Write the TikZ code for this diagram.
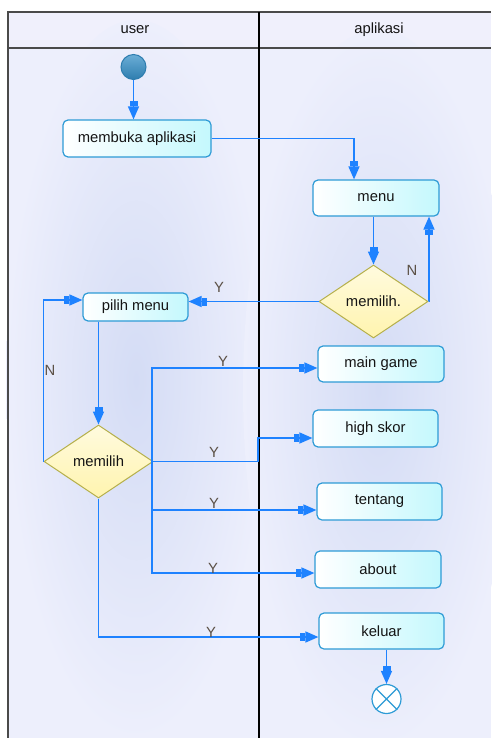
\documentclass[tikz,border=0pt]{standalone}
\usepackage{fontspec}
\setmainfont{Liberation Sans}
\usetikzlibrary{arrows.meta,shapes.geometric,calc}
\definecolor{flowc}{HTML}{1E82FF}
\definecolor{lanebg}{HTML}{EDEFFC}
\definecolor{headbg}{HTML}{F0F0FC}
\definecolor{glow}{HTML}{D4DCF5}
\definecolor{boxline}{HTML}{2E9BD6}
\definecolor{boxfill}{HTML}{C4F8FD}
\definecolor{decline}{HTML}{B5AF4A}
\definecolor{decfill}{HTML}{FFF4AE}
\definecolor{frame}{HTML}{4A4A4A}
\definecolor{guard}{HTML}{5B5045}
\definecolor{txt}{HTML}{141414}
\definecolor{balltop}{HTML}{6BAED6}
\definecolor{ballbot}{HTML}{2E7DAF}
\begin{document}
\begin{tikzpicture}[x=1pt,y=-1pt,
  font=\fontsize{14.8}{17}\selectfont,
  actbox/.style={draw=boxline, line width=1.2pt, rounded corners=5pt,
    left color=white, right color=boxfill, text=txt, inner sep=0pt},
  decision/.style={diamond, draw=decline, line width=1pt,
    top color=white!60!decfill, bottom color=decfill, text=txt,
    inner sep=0pt},
  flow/.style={draw=flowc, line width=1.6pt,
    -{Rectangle[length=5pt,width=8pt]Triangle[length=13pt,width=11pt]}},
  guardlbl/.style={text=guard, inner sep=0pt},
  lanetitle/.style={text=txt, inner sep=0pt}]

\useasboundingbox (0,0) rectangle (491,738);

% swimlane backgrounds
\fill[lanebg] (8,48) rectangle (491,738);
\fill[headbg] (8,12) rectangle (491,48);
\path[shading=radial, inner color=glow, outer color=lanebg]
  (136,380) ellipse [x radius=130, y radius=360];
\path[shading=radial, inner color=glow, outer color=lanebg]
  (378,390) ellipse [x radius=135, y radius=360];

% swimlane frame
\draw[frame, line width=1.4pt] (8,12) -- (491,12);
\draw[frame, line width=1.4pt] (8,48) -- (491,48);
\draw[frame, line width=2pt] (8,11.3) -- (8,738);
\draw[black, line width=1.3pt] (259,12) -- (259,738);

\node[lanetitle] (lu) at (135,30) {user};
\node[lanetitle] (la) at (379,30) {aplikasi};

% initial and final states
\node[circle, draw=ballbot, line width=1pt, minimum size=25pt,
  inner sep=0pt, top color=balltop, bottom color=ballbot] (start) at (133.5,67) {};
\node[circle, draw=boxline, line width=1.2pt, fill=white, minimum size=29pt,
  inner sep=0pt] (stop) at (386.5,699) {};
\draw[boxline, line width=1.2pt] (stop.north east) -- (stop.south west)
  (stop.north west) -- (stop.south east);

% activities
\node[actbox, minimum width=148pt, minimum height=37pt] (mb) at (137,138.5) {membuka aplikasi};
\node[actbox, minimum width=126pt, minimum height=36pt] (menu) at (376,198) {menu};
\node[decision, minimum width=109pt, minimum height=73pt] (d1) at (373.5,301.5) {memilih.};
\node[actbox, minimum width=105pt, minimum height=28pt] (pilih) at (135.5,307) {pilih menu};
\node[decision, minimum width=109pt, minimum height=73pt] (d2) at (98.5,461.5) {memilih};
\node[actbox, minimum width=126pt, minimum height=36pt] (mg) at (381,364) {main game};
\node[actbox, minimum width=125pt, minimum height=37pt] (hs) at (375.5,428.5) {high skor};
\node[actbox, minimum width=125pt, minimum height=37pt] (te) at (379.5,501.5) {tentang};
\node[actbox, minimum width=126pt, minimum height=37pt] (ab) at (378,569.5) {about};
\node[actbox, minimum width=125pt, minimum height=36pt] (ke) at (381.5,631) {keluar};

% connectors
\coordinate (j) at (152,461.5);
\coordinate (hsj) at (258,461.5);

\draw[flow] (start) -- (start |- mb.north);
\draw[flow] (mb.east) -| ([xshift=-22pt]menu.north);
\draw[flow] (d1.north |- menu.south) -- (d1.north);
\draw[flow] (d1.east) -| ([xshift=53pt]menu.south);
\draw[flow] (d1.west) -- (d1.west -| pilih.east);
\draw[flow] (d2.west) |- ([yshift=7pt]pilih.west);
\draw[flow] (pilih.south -| d2.north) -- (d2.north);
\draw[flow] (d2.east) -- (j) |- ([yshift=-4pt]mg.west);
\draw[flow] (d2.east) -- (hsj) |- ([yshift=-9.5pt]hs.west);
\draw[flow] (j) |- ([yshift=-8.5pt]te.west);
\draw[flow] (j) |- ([yshift=-3.5pt]ab.west);
\draw[flow] (d2.south) |- ([yshift=-6pt]ke.west);
\draw[flow] (ke.south -| stop.north) -- (stop.north);

% guard labels
\node[guardlbl] (n1) at (412,270) {N};
\node[guardlbl] (y1) at (219,287) {Y};
\node[guardlbl] (n2) at (50,370) {N};
\node[guardlbl] (y2) at (223,361) {Y};
\node[guardlbl] (y3) at (214,452) {Y};
\node[guardlbl] (y4) at (214,503) {Y};
\node[guardlbl] (y5) at (213,568) {Y};
\node[guardlbl] (y6) at (211,632) {Y};
\end{tikzpicture}
\end{document}
